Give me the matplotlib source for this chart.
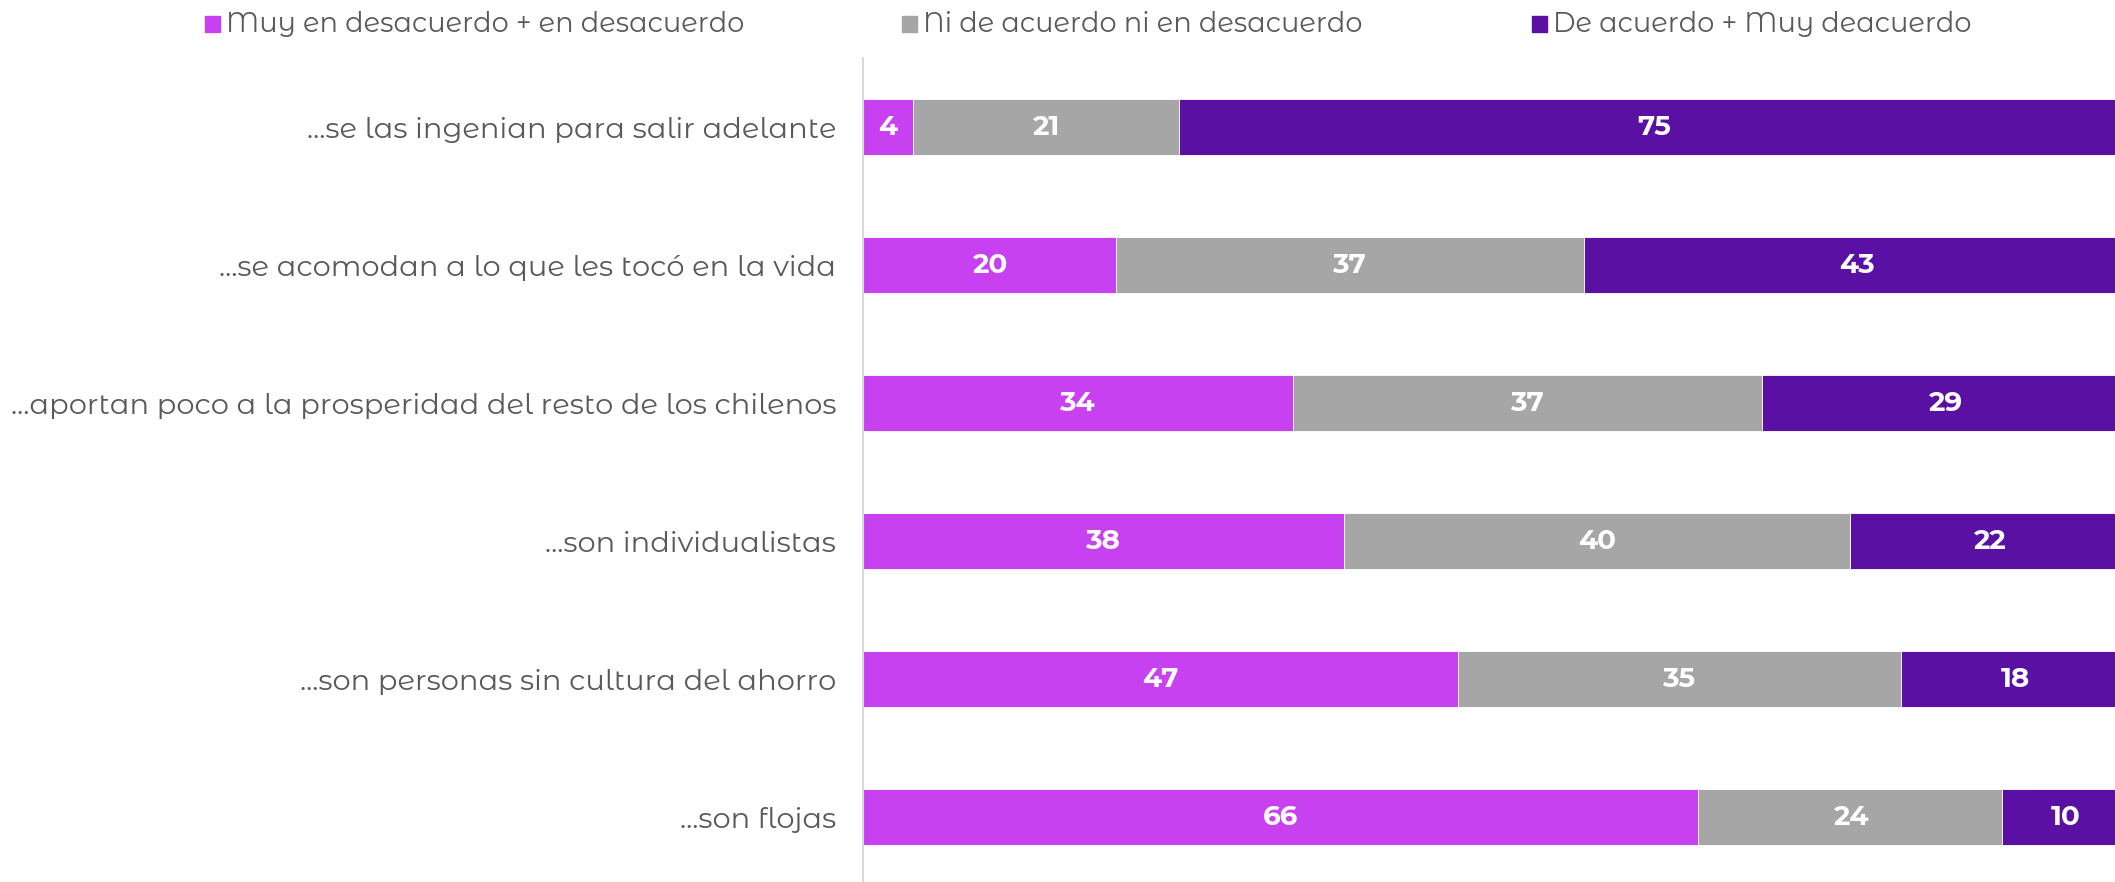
import numpy as np
import matplotlib
matplotlib.use("Agg")
import matplotlib.pyplot as plt
from matplotlib.patches import Rectangle

# Data
categories = [
    "...se las ingenian para salir adelante",
    "...se acomodan a lo que les tocó en la vida",
    "...aportan poco a la prosperidad del resto de los chilenos",
    "...son individualistas",
    "...son personas sin cultura del ahorro",
    "...son flojas",
]
desacuerdo = [4, 20, 34, 38, 47, 66]
neutral = [21, 37, 37, 40, 35, 24]
acuerdo = [75, 43, 29, 22, 18, 10]
series_names = [
    "Muy en desacuerdo + en desacuerdo",
    "Ni de acuerdo ni en desacuerdo",
    "De acuerdo + Muy deacuerdo",
]
colors = ["#C841F0", "#A6A6A6", "#5A11A3"]

plt.rcParams['font.family'] = ['Montserrat Alternates', 'DejaVu Sans']

W, H = 2115, 882
fig = plt.figure(figsize=(W / 100, H / 100), dpi=100)
ax = fig.add_axes([862.5 / W, 0, 1 - 862.5 / W, (H - 58) / H])

y = np.arange(len(categories))
left = np.zeros(len(categories))
for vals, col in zip([desacuerdo, neutral, acuerdo], colors):
    vals = np.array(vals)
    ax.barh(y, vals, left=left, height=0.405, color=col, edgecolor='white',
            linewidth=0.6, clip_on=True)
    for yi, l, v in zip(y, left, vals):
        ax.text(l + v / 2, yi, str(v), ha='center', va='center', color='white',
                fontsize=20, fontweight='bold')
    left += vals

# the original chart is cut off slightly before 100 on the right
ax.set_xlim(0, 98.9)
ax.set_ylim(5.47, -0.5)
ax.set_yticks(y)
ax.set_yticklabels(categories, fontsize=20.8, color='#595959', fontweight='normal')
ax.tick_params(axis='y', length=0, pad=19)
ax.set_xticks([])
for s in ['top', 'right', 'bottom']:
    ax.spines[s].set_visible(False)
ax.spines['left'].set_color('#D9D9D9')
ax.spines['left'].set_linewidth(1.5)

# Legend drawn manually
leg_x = [205, 902, 1532]
sq = 15
for x, name, col in zip(leg_x, series_names, colors):
    fig.patches.append(Rectangle((x / W, (H - 24 - sq / 2) / H), sq / W, sq / H,
                                 transform=fig.transFigure, color=col))
    fig.text((x + sq + 6) / W, (H - 24) / H, name, ha='left', va='center',
             fontsize=19.6, color='#595959', fontweight='normal')

fig.savefig("out.png", dpi=100)
